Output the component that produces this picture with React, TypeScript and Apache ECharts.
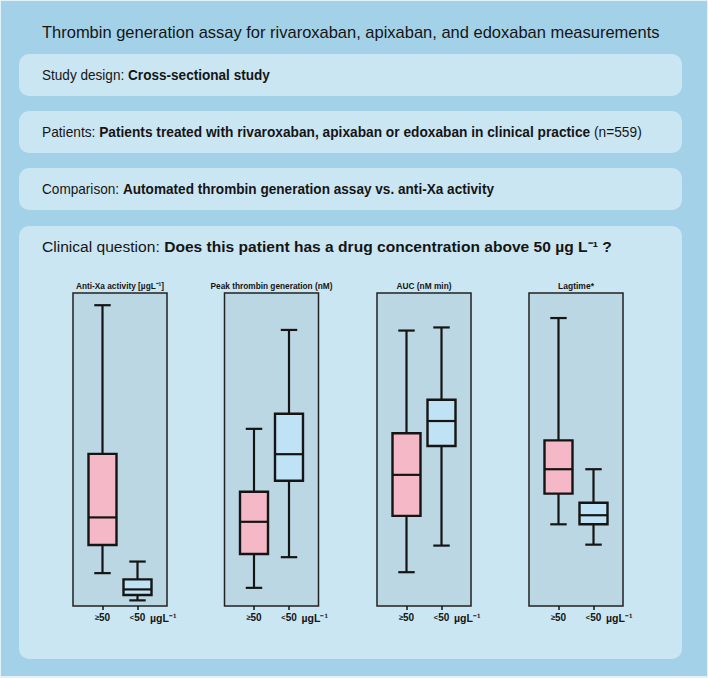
import React, { useEffect, useRef } from "react";
import * as echarts from "echarts";

// ---------- data ----------
const chartTitle = "Thrombin generation assay for rivaroxaban, apixaban, and edoxaban measurements";
const panelTitles = ["Anti-Xa activity [µgL⁻¹]", "Peak thrombin generation (nM)", "AUC (nM min)", "Lagtime*"];
const groups = ["≥50", "<50"];
const unitLabel = "µgL⁻¹";
// each row: [min, Q1, median, Q3, max] on a relative 0-100 scale (no y axis in source)
const antiXa = [
  [10.5, 19.5, 28.3, 48.6, 96.1],
  [1.8, 3.5, 5.3, 8.5, 14.2],
];
const peakThrombin = [
  [5.8, 16.6, 26.9, 36.5, 56.6],
  [15.6, 40.0, 48.5, 61.4, 88.2],
];
const aucValues = [
  [10.8, 28.8, 41.9, 55.2, 88.0],
  [19.3, 51.1, 59.1, 65.9, 89.0],
];
const lagtime = [
  [26.1, 35.9, 43.7, 52.9, 92.0],
  [19.6, 26.1, 29.0, 33.0, 43.7],
];
const panelData = [antiXa, peakThrombin, aucValues, lagtime];

const infoLines = [
  [{ t: "Study design: " }, { t: "Cross-sectional study", b: true }],
  [
    { t: "Patients: " },
    { t: "Patients treated with rivaroxaban, apixaban or edoxaban in clinical practice", b: true },
    { t: " (n=559)" },
  ],
  [{ t: "Comparison: " }, { t: "Automated thrombin generation assay vs. anti-Xa activity", b: true }],
  [{ t: "Clinical question: " }, { t: "Does this patient has a drug concentration above 50 µg L⁻¹ ?", b: true }],
];

// ---------- styling / layout ----------
const FONT = "'Liberation Sans', Arial, Helvetica, sans-serif";
const W = 708;
const H = 678;
const OUTER_BG = "#a3d1e8";
const CARD_BG = "#cbe6f3";
const PLOT_BG = "#bcd7e4";
const INK = "#151515";
const BOX_COLORS = ["#f5b8c6", "#bfe2f5"];

const cardTops = [54, 111, 168, 226];
const cardHeights = [42, 42, 42, 433];
const lineTargets = [228, 600, 452, 570];
const lineSizes = [14, 14, 14, 15];
const frameLefts = [73, 224.5, 377, 529];
const FRAME_W = 94;
const FRAME_TOP = 293;
const FRAME_H = 313;
const panelTitleWidths = [88, 122, 55, 36];

type Part = { t: string; b?: boolean };

function measure(parts: Part[], size: number): number {
  const ctx = document.createElement("canvas").getContext("2d");
  if (!ctx) return 1;
  let w = 0;
  for (const p of parts) {
    ctx.font = `${p.b ? "bold " : ""}${size}px ${FONT}`;
    w += ctx.measureText(p.t).width;
  }
  return w;
}

function richText(parts: Part[]): string {
  return parts.map((p) => `{${p.b ? "b" : "n"}|${p.t}}`).join("");
}

export default function App() {
  const ref = useRef<HTMLDivElement>(null);

  useEffect(() => {
    if (!ref.current) return;
    const chart = echarts.init(ref.current, undefined, { renderer: "svg" });

    const graphics: any[] = [];
    graphics.push({
      type: "rect",
      z: -10,
      shape: { x: 0, y: 0, width: W, height: H },
      style: { fill: "#e3f1f8" },
    });
    graphics.push({
      type: "rect",
      z: -9,
      shape: { x: 1, y: 1, width: W - 2, height: H - 3 },
      style: { fill: OUTER_BG },
    });

    // title
    const titleSize = 16;
    const titleScale = 618 / measure([{ t: chartTitle }], titleSize);
    graphics.push({
      type: "text",
      x: 42,
      y: 32,
      scaleX: titleScale,
      z: 5,
      style: {
        text: chartTitle,
        fontSize: titleSize,
        fontFamily: FONT,
        fill: INK,
        align: "left",
        verticalAlign: "middle",
      },
    });

    // cards + texts
    cardTops.forEach((top, i) => {
      graphics.push({
        type: "rect",
        z: -5,
        shape: { x: 19, y: top, width: 663, height: cardHeights[i], r: 10 },
        style: { fill: CARD_BG },
      });
      const size = lineSizes[i];
      const sc = lineTargets[i] / measure(infoLines[i], size);
      graphics.push({
        type: "text",
        x: 42,
        y: i < 3 ? top + cardHeights[i] / 2 : top + 21,
        scaleX: sc,
        z: 5,
        style: {
          text: richText(infoLines[i]),
          fill: INK,
          fontSize: size,
          fontFamily: FONT,
          align: "left",
          verticalAlign: "middle",
          rich: {
            n: { fontSize: size, fontFamily: FONT, fill: INK },
            b: { fontSize: size, fontFamily: FONT, fontWeight: "bold", fill: INK },
          },
        },
      });
    });

    // panel frames, titles, unit labels
    frameLefts.forEach((left, i) => {
      graphics.push({
        type: "rect",
        z: -1,
        shape: { x: left, y: FRAME_TOP, width: FRAME_W, height: FRAME_H },
        style: { fill: PLOT_BG, stroke: "#222", lineWidth: 1.5 },
      });
      const ts = 9.5;
      const sc = panelTitleWidths[i] / measure([{ t: panelTitles[i], b: true }], ts);
      graphics.push({
        type: "text",
        x: left + FRAME_W / 2,
        y: 285.5,
        scaleX: sc,
        z: 5,
        style: {
          text: panelTitles[i],
          fontSize: ts,
          fontWeight: "bold",
          fontFamily: FONT,
          fill: INK,
          align: "center",
          verticalAlign: "middle",
        },
      });
      graphics.push({
        type: "text",
        x: left + FRAME_W - 17,
        y: 617.5,
        z: 5,
        style: {
          text: unitLabel,
          fontSize: 10.5,
          fontWeight: "bold",
          fontFamily: FONT,
          fill: INK,
          align: "left",
          verticalAlign: "middle",
        },
      });
    });

    const grids = frameLefts.map((left) => ({
      left: left + 12,
      top: FRAME_TOP,
      width: 70,
      height: FRAME_H,
    }));

    const xAxes = frameLefts.map((_, i) => ({
      type: "category",
      gridIndex: i,
      data: groups,
      boundaryGap: true,
      axisLine: { show: false },
      axisTick: {
        show: true,
        interval: 0,
        alignWithLabel: true,
        length: 4,
        lineStyle: { color: INK, width: 1.5 },
      },
      splitLine: { show: false },
      axisLabel: {
        interval: 0,
        hideOverlap: false,
        margin: 6,
        formatter: (v: string) => `{s|${v.charAt(0)}}{d|${v.slice(1)}}`,
        rich: {
          s: { fontSize: 7.5, fontWeight: "bold", fontFamily: FONT, color: INK },
          d: { fontSize: 10, fontWeight: "bold", fontFamily: FONT, color: INK },
        },
      },
    }));

    const yAxes = frameLefts.map((_, i) => ({
      type: "value",
      gridIndex: i,
      min: 0,
      max: 100,
      show: false,
    }));

    const series = panelData.map((rows, gi) => ({
      type: "custom",
      xAxisIndex: gi,
      yAxisIndex: gi,
      data: rows.map((r, i) => [i, ...r]),
      encode: { x: 0, y: [1, 2, 3, 4, 5] },
      renderItem: (_params: any, api: any) => {
        const idx = api.value(0);
        const pt = (k: number) => api.coord([idx, api.value(k)]);
        const [x, yMin] = pt(1);
        const yQ1 = pt(2)[1];
        const yMed = pt(3)[1];
        const yQ3 = pt(4)[1];
        const yMax = pt(5)[1];
        const band = api.size([1, 0])[0];
        const bw = band * 0.8;
        const cw = band * 0.47;
        const ln = (x1: number, y1: number, x2: number, y2: number, w: number) => ({
          type: "line",
          shape: { x1, y1, x2, y2 },
          style: { stroke: INK, lineWidth: w },
        });
        return {
          type: "group",
          children: [
            ln(x, yMax, x, yQ3, 2.2),
            ln(x, yQ1, x, yMin, 2.2),
            ln(x - cw / 2, yMax, x + cw / 2, yMax, 2.2),
            ln(x - cw / 2, yMin, x + cw / 2, yMin, 2.2),
            {
              type: "rect",
              shape: { x: x - bw / 2, y: yQ3, width: bw, height: yQ1 - yQ3 },
              style: { fill: BOX_COLORS[idx], stroke: INK, lineWidth: 2.4 },
            },
            ln(x - bw / 2, yMed, x + bw / 2, yMed, 2.2),
          ],
        };
      },
    }));

    chart.setOption({
      animation: false,
      backgroundColor: OUTER_BG,
      graphic: { elements: graphics },
      grid: grids,
      xAxis: xAxes,
      yAxis: yAxes,
      series,
    });

    return () => chart.dispose();
  }, []);

  return <div ref={ref} style={{ position: "fixed", left: 0, top: 0, width: W, height: H }} />;
}
